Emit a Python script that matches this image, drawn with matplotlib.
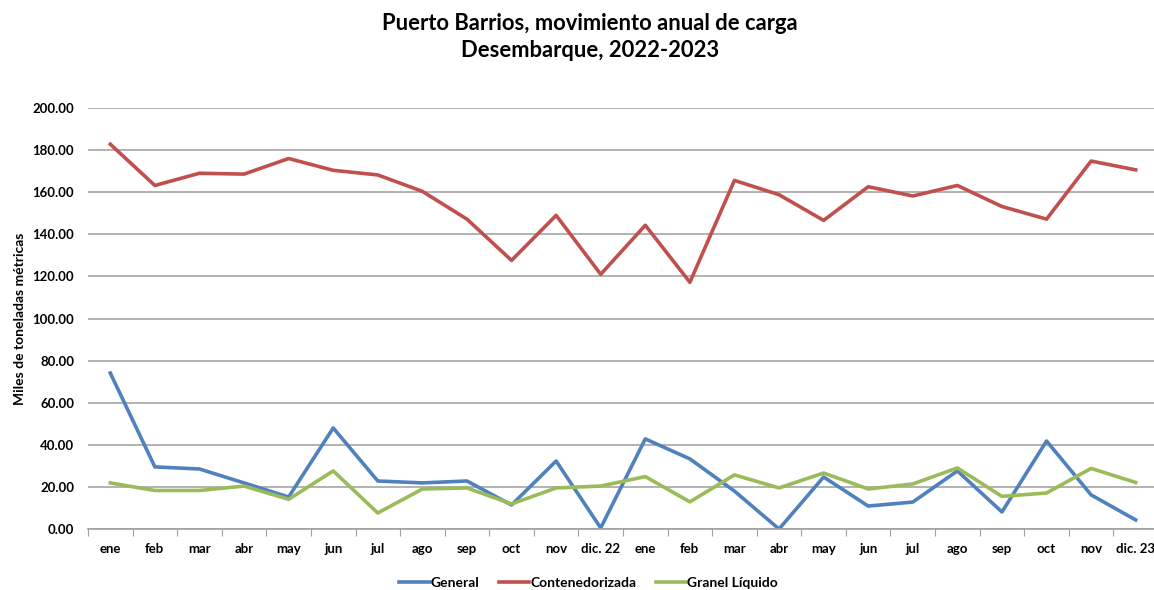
import matplotlib
matplotlib.use("Agg")
import matplotlib.pyplot as plt
import numpy as np

months = ["ene", "feb", "mar", "abr", "may", "jun", "jul", "ago", "sep", "oct", "nov", "dic. 22",
          "ene", "feb", "mar", "abr", "may", "jun", "jul", "ago", "sep", "oct", "nov", "dic. 23"]
general = [74.1, 29.5, 28.5, 21.9, 15.2, 48.0, 22.8, 21.9, 22.8, 11.4, 32.3, 0.5,
           42.8, 33.3, 18.0, 0.0, 24.7, 10.9, 12.8, 27.6, 8.1, 41.8, 16.2, 4.3]
contenedorizada = [182.8, 163.2, 169.0, 168.6, 176.0, 170.4, 168.2, 160.4, 147.2, 127.6, 149.0, 121.0,
                   144.3, 117.2, 165.6, 158.8, 146.6, 162.6, 158.2, 163.2, 153.2, 147.2, 174.8, 170.6]
granel = [21.9, 18.3, 18.3, 20.4, 14.1, 27.6, 7.6, 19.0, 19.5, 11.9, 19.5, 20.4,
          24.9, 12.9, 25.7, 19.5, 26.6, 19.0, 21.4, 29.0, 15.5, 17.1, 28.8, 22.1]

plt.rcParams['font.family'] = ['Lato', 'DejaVu Sans']
plt.rcParams['font.weight'] = 'bold'

fig = plt.figure(figsize=(11.54, 5.90), dpi=100)
ax = fig.add_axes([88/1154, 61/590, (1158-88)/1154, (482-61)/590])

x = np.arange(len(months))
lw = 2.6
ax.plot(x, general, color="#4F81BD", lw=lw, label="General")
ax.plot(x, contenedorizada, color="#C0504D", lw=lw, label="Contenedorizada")
ax.plot(x, granel, color="#9BBB59", lw=lw, label="Granel Líquido")

ax.set_xlim(-0.5, len(months) - 0.5)
ax.set_ylim(0, 200)
ax.set_yticks(np.arange(0, 201, 20))
ax.set_yticklabels([f"{v:.2f}" for v in np.arange(0, 201, 20)], fontsize=9.5, fontweight='bold')
ax.set_xticks(x)
ax.set_xticklabels(months, fontsize=9.5, fontweight='bold')
ax.set_xticks(np.arange(-0.5, len(months), 1), minor=True)
ax.tick_params(axis='x', which='major', length=0, pad=10)
ax.tick_params(axis='x', which='minor', length=5, color='#A0A0A0', width=0.8)
ax.tick_params(axis='y', length=0, pad=10)
ax.grid(axis='y', color='#A6A6A6', lw=1.2)
ax.set_axisbelow(True)
for s in ['top', 'right', 'left']:
    ax.spines[s].set_visible(False)
ax.spines['bottom'].set_color('#A0A0A0')
ax.spines['bottom'].set_linewidth(1.2)

ax.set_ylabel("Miles de toneladas métricas", fontsize=10, fontweight='bold')
ax.yaxis.set_label_coords(-0.058, 0.5)

fig.text(0.511, 0.960, "Puerto Barrios, movimiento anual de carga", ha='center', va='center',
         fontsize=15.8, fontweight='bold')
fig.text(0.511, 0.915, "Desembarque, 2022-2023", ha='center', va='center',
         fontsize=15.8, fontweight='bold')

leg = fig.legend(loc='center', ncol=3, frameon=False,
                 fontsize=10, handlelength=2.2, handletextpad=0.05, columnspacing=1.4,
                 bbox_to_anchor=(0.51, 1 - 583/590), bbox_transform=fig.transFigure)

fig.savefig("out.png", dpi=100)
